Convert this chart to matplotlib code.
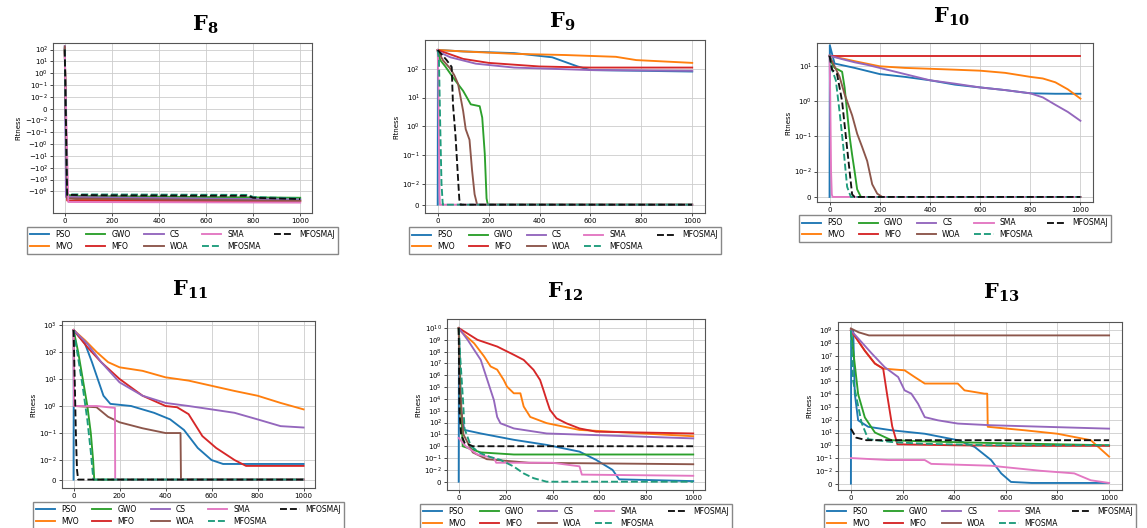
import numpy as np
import matplotlib
matplotlib.use('Agg')
import matplotlib.pyplot as plt
from matplotlib.ticker import FixedLocator, FuncFormatter

# convergence curves, (iteration, fitness) breakpoints
algos = ['PSO', 'MVO', 'GWO', 'MFO', 'CS', 'WOA', 'SMA', 'MFOSMA', 'MFOSMAJ']
iter_ticks = [0, 200, 400, 600, 800, 1000]

# F8
f8_pso = ([0, 8, 50, 1000], [150, -3e4, -4.5e4, -5e4])
f8_mvo = ([0, 10, 100, 1000], [80, -3.5e4, -5e4, -6e4])
f8_gwo = ([0, 10, 50, 1000], [100, -2e4, -2.5e4, -3.5e4])
f8_mfo = ([0, 10, 1000], [120, -6e4, -7e4])
f8_cs = ([0, 5, 1000], [200, -3e4, -5e4])
f8_woa = ([0, 10, 1000], [180, -4e4, -6.5e4])
f8_sma = ([0, 15, 1000], [60, -8e4, -9e4])
f8_mfosma = ([0, 10, 780, 800, 1000], [100, -1.8e4, -2e4, -3e4, -4e4])
f8_mfosmaj = ([0, 10, 200, 780, 800, 1000], [100, -2e4, -2.2e4, -2.4e4, -3.5e4, -4.5e4])
f8_yticks = [1e2, 1e1, 1e0, 1e-1, 1e-2, 0, -1e-2, -1e-1, -1e0, -1e1, -1e2, -1e3, -1e4]

# F9
f9_pso = ([0, 1, 100, 300, 450, 550, 600, 1000], [0, 450, 400, 350, 250, 120, 90, 80])
f9_mvo = ([0, 100, 300, 500, 700, 780, 1000], [450, 400, 330, 300, 260, 200, 160])
f9_gwo = ([0, 10, 30, 60, 100, 130, 165, 175, 185, 192, 197, 1000],
          [450, 200, 120, 50, 17, 5.8, 5, 2, 0.11, 0.003, 0, 0])
f9_mfo = ([0, 100, 200, 400, 600, 1000], [450, 220, 160, 120, 110, 110])
f9_cs = ([0, 50, 150, 300, 600, 1000], [400, 250, 150, 110, 90, 85])
f9_woa = ([0, 20, 50, 65, 80, 100, 110, 125, 135, 145, 155, 1000],
          [450, 200, 100, 60, 30, 3.4, 0.8, 0.34, 0.03, 0.005, 0, 0])
f9_sma = ([0, 3, 5, 7, 9, 1000], [450, 30, 0.3, 0.005, 0, 0])
f9_mfosma = ([0, 5, 10, 15, 20, 1000], [450, 200, 1, 0.01, 0, 0])
f9_mfosmaj = ([0, 35, 55, 60, 70, 78, 85, 90, 1000], [450, 200, 115, 5.8, 0.47, 0.03, 0.0025, 0, 0])
f9_yticks = [0, 1e-2, 1e-1, 1e0, 1e1, 1e2]

# F10
f10_pso = ([0, 1, 20, 100, 200, 300, 400, 500, 600, 700, 800, 900, 1000],
           [0, 40, 12, 9, 6, 5, 4, 3, 2.5, 2.1, 1.7, 1.65, 1.65])
f10_mvo = ([0, 100, 200, 300, 400, 500, 600, 700, 800, 850, 900, 950, 1000],
           [20, 14, 10, 9, 8.5, 8, 7.5, 6.5, 5, 4.5, 3.5, 2.2, 1.2])
f10_gwo = ([0, 10, 20, 35, 50, 60, 70, 80, 90, 100, 110, 120, 125, 1000],
           [20, 12, 9, 8, 7, 2.5, 0.5, 0.1, 0.03, 0.01, 0.003, 0.001, 0, 0])
f10_mfo = ([0, 1000], [20, 20])
f10_cs = ([0, 50, 100, 150, 200, 300, 400, 500, 600, 700, 800, 850, 900, 950, 1000],
          [20, 16, 13, 11, 9, 6, 4, 3.2, 2.5, 2.1, 1.7, 1.3, 0.8, 0.5, 0.28])
f10_woa = ([0, 20, 40, 60, 90, 110, 130, 150, 170, 190, 210, 1000],
           [20, 10, 5, 1.6, 0.4, 0.12, 0.05, 0.02, 0.005, 0.0013, 0, 0])
f10_sma = ([0, 3, 6, 9, 12, 1000], [20, 1, 0.01, 0.001, 0, 0])
f10_mfosma = ([0, 10, 25, 40, 55, 70, 85, 1000], [20, 8, 4, 0.5, 0.05, 0.004, 0, 0])
f10_mfosmaj = ([0, 10, 30, 50, 65, 80, 90, 100, 1000], [20, 8, 6, 1, 0.1, 0.01, 0.001, 0, 0])
f10_yticks = [0, 1e-2, 1e-1, 1e0, 1e1]

# F11
f11_pso = ([0, 1, 50, 80, 130, 160, 250, 350, 420, 480, 540, 600, 650, 1000],
           [0, 650, 200, 42, 2.4, 1.2, 1, 0.56, 0.32, 0.13, 0.028, 0.01, 0.008, 0.008])
f11_mvo = ([0, 50, 100, 150, 200, 300, 400, 500, 600, 700, 800, 900, 1000],
           [650, 270, 100, 42, 27, 20, 11.5, 8.7, 5.6, 3.6, 2.4, 1.3, 0.75])
f11_gwo = ([0, 20, 40, 60, 75, 85, 90, 1000], [650, 100, 10, 1, 0.1, 0.01, 0, 0])
f11_mfo = ([0, 60, 120, 200, 300, 400, 450, 500, 560, 620, 700, 750, 1000],
           [650, 150, 42, 10, 2.4, 1, 0.9, 0.5, 0.077, 0.028, 0.01, 0.007, 0.007])
f11_cs = ([0, 60, 120, 200, 300, 400, 500, 600, 700, 800, 900, 1000],
          [650, 200, 42, 7.5, 2.4, 1.3, 1, 0.75, 0.56, 0.32, 0.18, 0.16])
f11_woa = ([0, 2, 100, 150, 200, 300, 400, 465, 467, 1000], [650, 1, 0.9, 0.4, 0.25, 0.15, 0.1, 0.1, 0, 0])
f11_sma = ([0, 2, 100, 150, 180, 181, 1000], [650, 1, 1, 0.9, 0.85, 0, 0])
f11_mfosma = ([0, 20, 40, 60, 75, 86, 1000], [650, 60, 5, 0.3, 0.02, 0, 0])
f11_mfosmaj = ([0, 5, 10, 15, 20, 1000], [650, 10, 0.1, 0.005, 0, 0])
f11_yticks = [0, 1e-2, 1e-1, 1e0, 1e1, 1e2, 1e3]

# F12
f12_pso = ([0, 1, 10, 24, 94, 235, 375, 515, 586, 656, 684, 1000],
           [0, 1e10, 1e3, 24, 12, 3.5, 1.3, 0.35, 0.07, 0.01, 0.002, 0.0005])
f12_mvo = ([0, 10, 66, 108, 136, 164, 192, 206, 235, 263, 277, 305, 375, 515, 1000],
           [1e10, 5e9, 5e8, 4e7, 5.6e6, 3e6, 4e5, 1.1e5, 3e4, 3e4, 2.3e3, 300, 90, 24, 7])
f12_gwo = ([0, 8, 17, 94, 235, 1000], [1e10, 1e4, 1, 0.3, 0.2, 0.2])
f12_mfo = ([0, 80, 164, 235, 277, 319, 347, 361, 375, 389, 417, 459, 515, 586, 1000],
           [1e10, 1e9, 2.7e8, 5.4e7, 2e7, 2.9e6, 4e5, 5.9e4, 8e3, 1.2e3, 230, 87, 32, 17, 12])
f12_cs = ([0, 38, 66, 94, 122, 150, 164, 178, 235, 375, 1000],
          [1e10, 1e9, 1.4e8, 2e7, 4e5, 8e3, 300, 87, 32, 12, 4.6])
f12_woa = ([0, 5, 20, 60, 120, 300, 1000], [1e10, 1e5, 10, 0.3, 0.08, 0.04, 0.03])
f12_sma = ([0, 30, 80, 150, 160, 400, 515, 525, 1000], [5, 1, 0.2, 0.1, 0.04, 0.04, 0.02, 0.006, 0.005])
f12_mfosma = ([0, 5, 18, 25, 52, 94, 136, 178, 235, 277, 319, 375, 1000],
              [1e10, 1e8, 1e4, 30, 1, 0.25, 0.12, 0.07, 0.019, 0.007, 0.003, 0, 0])
f12_mfosmaj = ([0, 3, 10, 25, 60, 1000], [1e10, 1e3, 10, 2, 1, 1])
f12_yticks = [0, 1e-2, 1e-1, 1e0, 1e1, 1e2, 1e3, 1e4, 1e5, 1e6, 1e7, 1e8, 1e9, 1e10]

# F13
f13_pso = ([0, 1, 9, 15, 28, 67, 157, 286, 414, 479, 543, 582, 620, 700, 1000],
           [0, 1e9, 1e9, 1.1e4, 90, 28, 15, 8, 2.5, 0.75, 0.07, 0.008, 0.0013, 0.0005, 0.0005])
f13_mvo = ([0, 54, 93, 125, 208, 247, 286, 414, 440, 517, 528, 530, 672, 800, 929, 1000],
           [1e9, 2.5e7, 2.5e6, 1e6, 7.4e5, 2.2e5, 6.8e4, 6.8e4, 2e4, 1.1e4, 1.1e4, 28, 15, 8, 2.5, 0.13])
f13_gwo = ([0, 28, 54, 93, 157, 286, 543, 800, 1000], [1e9, 1e4, 150, 10, 2.5, 2, 1.5, 1.2, 1])
f13_mfo = ([0, 54, 93, 125, 140, 160, 180, 400, 600, 1000], [1e9, 2.5e7, 2.5e6, 1e6, 1e4, 30, 1.2, 1.0, 0.9, 0.9])
f13_cs = ([0, 80, 131, 183, 208, 234, 260, 286, 337, 414, 543, 1000],
          [1e9, 1.6e7, 1.3e6, 2.2e5, 2e4, 1.1e4, 1.8e3, 160, 90, 50, 37, 20])
f13_woa = ([0, 30, 70, 1000], [1.4e9, 7e8, 4e8, 4e8])
f13_sma = ([0, 144, 286, 311, 543, 736, 865, 929, 1000], [0.1, 0.07, 0.07, 0.035, 0.025, 0.01, 0.008, 0.0026, 0.0005])
f13_mfosma = ([0, 9, 41, 67, 157, 286, 543, 1000], [1e9, 1e5, 60, 3, 1.8, 1.3, 1, 1])
f13_mfosmaj = ([0, 20, 60, 1000], [20, 4, 2.5, 2.5])
f13_yticks = [0, 1e-2, 1e-1, 1e0, 1e1, 1e2, 1e3, 1e4, 1e5, 1e6, 1e7, 1e8, 1e9]

colors = ['#1f77b4', '#ff7f0e', '#2ca02c', '#d62728', '#9467bd', '#8c564b', '#e377c2', '#1e9c7c', '#111111']
styles = ['-'] * 7 + ['--', '--']

# panel layout (fig fractions), title pos (px), y limits, symlog linscale
panels = [
    ('8', [f8_pso, f8_mvo, f8_gwo, f8_mfo, f8_cs, f8_woa, f8_sma, f8_mfosma, f8_mfosmaj], f8_yticks,
     (-6.8e5, 3.6e2), 0.9, [0.0462, 0.5966, 0.2258, 0.3220], (205, 25)),
    ('9', [f9_pso, f9_mvo, f9_gwo, f9_mfo, f9_cs, f9_woa, f9_sma, f9_mfosma, f9_mfosmaj], f9_yticks,
     (-4e-3, 1e3), 0.65, [0.3705, 0.5966, 0.2441, 0.3277], (562, 22)),
    ('10', [f10_pso, f10_mvo, f10_gwo, f10_mfo, f10_cs, f10_woa, f10_sma, f10_mfosma, f10_mfosmaj], f10_yticks,
     (-2e-3, 46), 0.65, [0.7123, 0.6174, 0.2406, 0.3011], (951, 17)),
    ('11', [f11_pso, f11_mvo, f11_gwo, f11_mfo, f11_cs, f11_woa, f11_sma, f11_mfosma, f11_mfosmaj], f11_yticks,
     (-4.3e-3, 1.4e3), 0.65, [0.0541, 0.0758, 0.2206, 0.3163], (190, 290)),
    ('12', [f12_pso, f12_mvo, f12_gwo, f12_mfo, f12_cs, f12_woa, f12_sma, f12_mfosma, f12_mfosmaj], f12_yticks,
     (-7e-3, 5.8e10), 0.9, [0.3897, 0.0720, 0.2249, 0.3239], (565, 292)),
    ('13', [f13_pso, f13_mvo, f13_gwo, f13_mfo, f13_cs, f13_woa, f13_sma, f13_mfosma, f13_mfosmaj], f13_yticks,
     (-5e-3, 4.5e9), 0.9, [0.7306, 0.0720, 0.2476, 0.3182], (1001, 293)),
]


def sym_label(v, pos):
    if v == 0:
        return r'$0$'
    e = int(round(np.log10(abs(v))))
    sign = '-' if v < 0 else ''
    return r'$%s10^{%d}$' % (sign, e)


W, H = 1147, 528
fig = plt.figure(figsize=(W / 100, H / 100), dpi=100)

for num, series, yticks, ylim, lsc, rect, tpos in panels:
    ax = fig.add_axes(rect)
    for (xs, ys), name, c, ls in zip(series, algos, colors, styles):
        ax.plot(xs, ys, color=c, ls=ls, lw=1.35, label=name)
    ax.set_yscale('symlog', linthresh=1e-2, linscale=lsc)
    ax.set_ylim(*ylim)
    ax.set_xlim(-50, 1050)
    ax.yaxis.set_major_locator(FixedLocator(yticks))
    ax.yaxis.set_minor_locator(FixedLocator([]))
    ax.yaxis.set_major_formatter(FuncFormatter(sym_label))
    ax.set_xticks(iter_ticks)
    ax.tick_params(labelsize=5, length=2, width=0.5, pad=1.5)
    ax.grid(True, color='#cccccc', lw=0.6)
    for sp in ax.spines.values():
        sp.set_color('#555555')
        sp.set_linewidth(0.8)
    ax.set_ylabel('Fitness', fontsize=5, labelpad=2)
    ax.legend(loc='upper center', bbox_to_anchor=(0.5, -0.06), ncol=5, fontsize=5.5,
              handlelength=2.5, columnspacing=1.8, labelspacing=0.35, borderpad=0.4,
              fancybox=False, edgecolor='#888888', framealpha=1)
    fig.text(tpos[0] / W, 1 - tpos[1] / H, r'$\mathbf{F_{%s}}$' % num, fontsize=15,
             ha='center', va='center', math_fontfamily='dejavuserif')

fig.savefig('out.png', dpi=100)
